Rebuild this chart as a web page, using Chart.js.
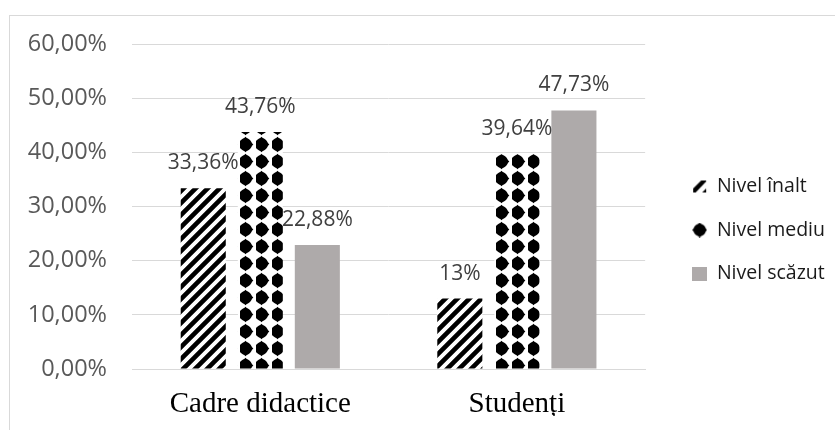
<!DOCTYPE html>
<html>
<head>
<meta charset="utf-8">
<script src="https://cdn.jsdelivr.net/npm/chart.js@4.4.1/dist/chart.umd.min.js"></script>
<style>
    html, body { margin: 0; padding: 0; background: #fff; overflow: hidden; }
    #wrap { position: relative; width: 835px; height: 430px; }
    #frame { position: absolute; left: 9px; top: 15px; width: 900px; height: 500px; border: 1px solid #d9d9d9; }
    #chart { position: absolute; left: 0; top: 0; }
</style>
</head>
<body>
<div id="wrap">
    <div id="frame"></div>
    <canvas id="chart" width="835" height="430"></canvas>
</div>
<script>
// Data
const categories = ['Cadre didactice', 'Studenți'];
const seriesNames = ['Nivel înalt', 'Nivel mediu', 'Nivel scăzut'];
const nivelInalt = [33.36, 13];
const nivelMediu = [43.76, 39.64];
const nivelScazut = [22.88, 47.73];
const yTicks = [0, 10, 20, 30, 40, 50, 60];

// Fill patterns
function makeStripes() {
    const s = 12;
    const c = document.createElement('canvas');
    c.width = s; c.height = s;
    const g = c.getContext('2d');
    g.fillStyle = '#fff';
    g.fillRect(0, 0, s, s);
    g.strokeStyle = '#000';
    g.lineWidth = 4.6;
    g.beginPath();
    for (const k of [0, s, 2 * s]) {
        g.moveTo(k - s - 2, s + 2);
        g.lineTo(k + 2, -2);
    }
    g.stroke();
    return c;
}

function drawDot(g, x, y, r, d) {
    g.beginPath();
    g.arc(x, y, r, 0, Math.PI * 2);
    g.fill();
    g.beginPath();
    g.moveTo(x, y - d); g.lineTo(x + d, y); g.lineTo(x, y + d); g.lineTo(x - d, y);
    g.closePath();
    g.fill();
}

function makeDots() {
    const c = document.createElement('canvas');
    c.width = 16; c.height = 17;
    const g = c.getContext('2d');
    g.fillStyle = '#fff';
    g.fillRect(0, 0, 16, 17);
    g.fillStyle = '#000';
    drawDot(g, 5.5, 8.5, 6.4, 7.8);
    return c;
}

const ctx = document.getElementById('chart').getContext('2d');
const stripeFill = ctx.createPattern(makeStripes(), 'repeat');
const dotFill = ctx.createPattern(makeDots(), 'repeat');
const GRAY = '#AEAAAA';

// Legend markers
function markerStripe() {
    const c = document.createElement('canvas');
    c.width = 15; c.height = 14;
    const g = c.getContext('2d');
    g.fillStyle = '#000';
    g.beginPath();
    g.moveTo(1, 13); g.lineTo(1, 9); g.lineTo(9, 1); g.lineTo(14, 1);
    g.lineTo(14, 2); g.lineTo(3.5, 13);
    g.closePath();
    g.fill();
    g.beginPath();
    g.moveTo(14, 9); g.lineTo(14, 13); g.lineTo(10, 13);
    g.closePath();
    g.fill();
    return c;
}
function markerDot() {
    const c = document.createElement('canvas');
    c.width = 15; c.height = 15;
    const g = c.getContext('2d');
    g.fillStyle = '#000';
    drawDot(g, 7.5, 7.5, 6.2, 7.4);
    return c;
}
function markerGray() {
    const c = document.createElement('canvas');
    c.width = 15; c.height = 14;
    const g = c.getContext('2d');
    g.fillStyle = GRAY;
    g.fillRect(0, 0, 15, 14);
    return c;
}
const MARKERS = [markerStripe(), markerDot(), markerGray()];

const fmtPct = v => Number.isInteger(v) ? v + '%' : v.toFixed(2).replace('.', ',') + '%';

// Value labels above the bars
const barLabels = {
    id: 'barLabels',
    afterDatasetsDraw(chart) {
        const c = chart.ctx;
        c.save();
        c.font = '21px "Open Sans"';
        c.fillStyle = '#404040';
        c.textAlign = 'center';
        c.textBaseline = 'middle';
        chart.data.datasets.forEach((ds, i) => {
            chart.getDatasetMeta(i).data.forEach((bar, j) => {
                c.fillText(fmtPct(ds.data[j]), bar.x, bar.y - 25);
            });
        });
        c.restore();
    }
};

new Chart(ctx, {
    type: 'bar',
    data: {
        labels: categories,
        datasets: [
            { label: seriesNames[0], data: nivelInalt, backgroundColor: stripeFill },
            { label: seriesNames[1], data: nivelMediu, backgroundColor: dotFill },
            { label: seriesNames[2], data: nivelScazut, backgroundColor: GRAY }
        ]
    },
    options: {
        responsive: false,
        animation: false,
        layout: { padding: { top: 44, bottom: 14, left: 0, right: 0 } },
        datasets: { bar: { categoryPercentage: 0.667, barPercentage: 0.79, borderWidth: 0 } },
        plugins: {
            tooltip: { enabled: false },
            legend: {
                position: 'right',
                maxWidth: 167,
                labels: {
                    usePointStyle: true,
                    boxWidth: 15,
                    boxHeight: 15,
                    padding: 24,
                    color: '#1a1a1a',
                    font: { family: 'Open Sans', size: 19.5 },
                    generateLabels: chart => chart.data.datasets.map((ds, i) => ({
                        text: ds.label,
                        pointStyle: MARKERS[i],
                        fillStyle: GRAY,
                        strokeStyle: 'transparent',
                        lineWidth: 0,
                        hidden: false,
                        datasetIndex: i,
                        fontColor: '#1a1a1a'
                    }))
                }
            }
        },
        scales: {
            x: {
                grid: { display: false, drawTicks: false },
                border: { display: true, color: '#d9d9d9' },
                ticks: { color: '#000', padding: 18, font: { family: 'Liberation Serif', size: 29 } },
                afterFit: s => { s.height = 47; }
            },
            y: {
                min: 0,
                max: 60,
                afterBuildTicks: s => { s.ticks = yTicks.map(v => ({ value: v })); },
                grid: { color: '#d9d9d9', drawTicks: false },
                border: { display: false },
                ticks: {
                    color: '#595959',
                    padding: 25,
                    font: { family: 'Open Sans', size: 23.5 },
                    callback: v => v.toFixed(2).replace('.', ',') + '%'
                },
                afterFit: s => { s.width = 132; }
            },
            gap: {
                position: 'right',
                grid: { display: false, drawTicks: false },
                border: { display: false },
                ticks: { display: false },
                afterFit: s => { s.width = 23; }
            }
        }
    },
    plugins: [barLabels]
});
</script>
</body>
</html>
